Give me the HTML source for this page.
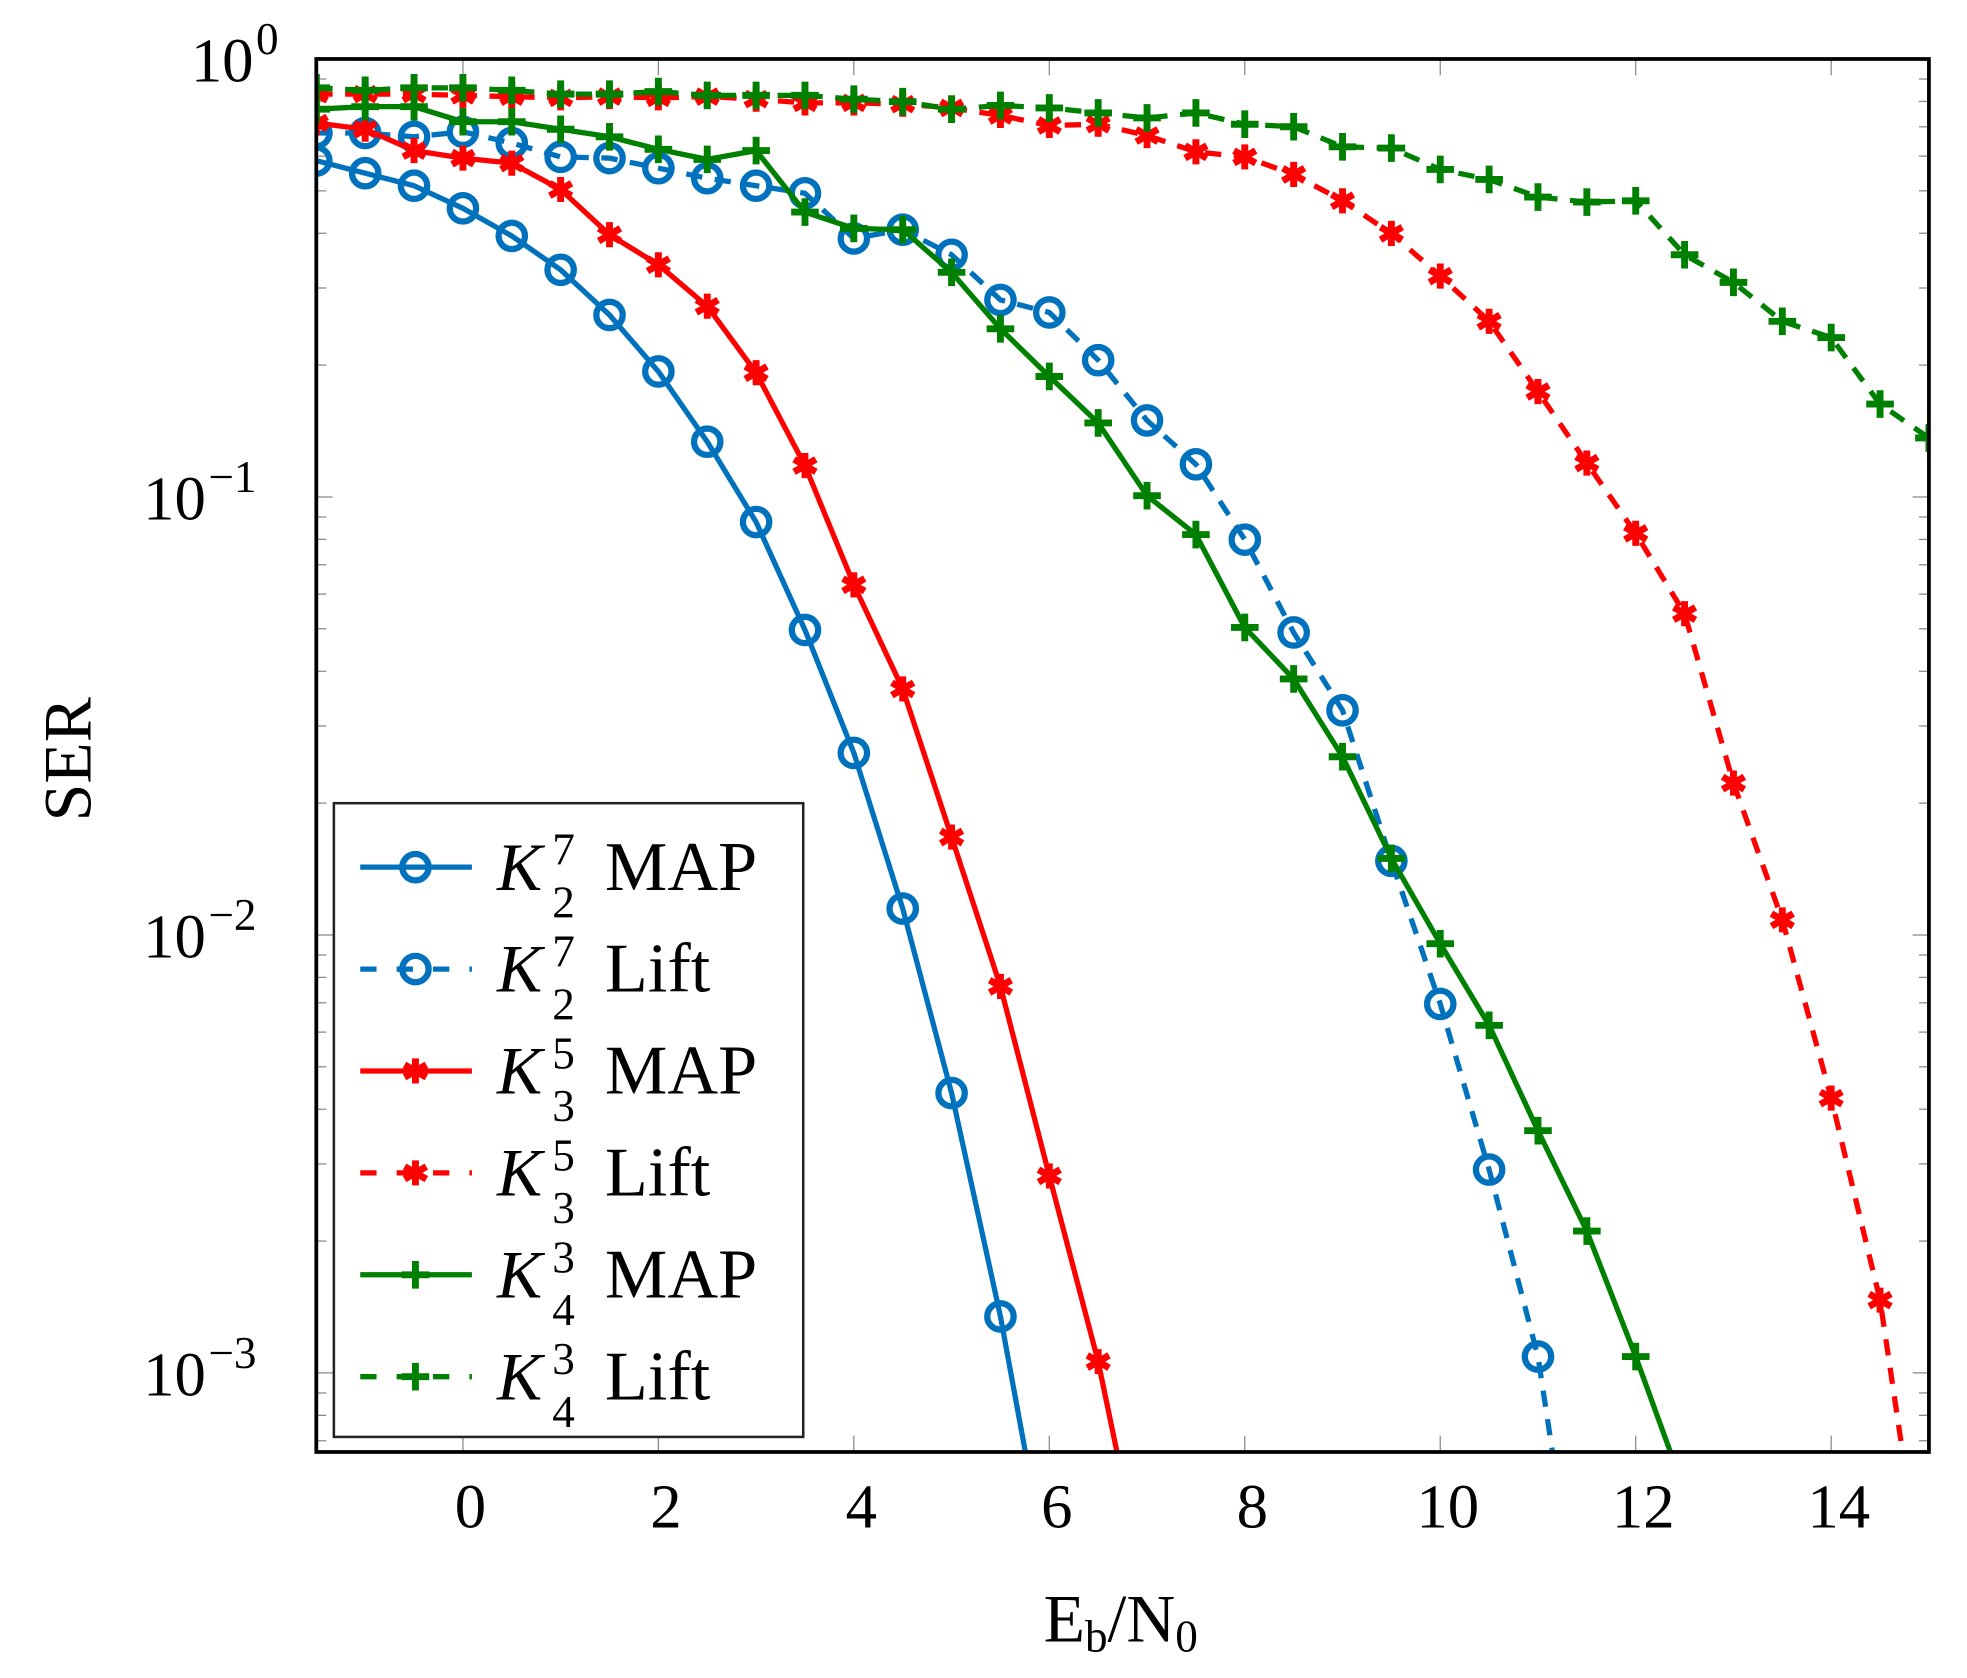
<!DOCTYPE html>
<html><head><meta charset="utf-8"><style>
html,body{margin:0;padding:0;background:#fff;}
svg{display:block;}
text{font-family:"Liberation Serif",serif;fill:#000;}
</style></head><body>
<svg id="s" width="1967" height="1678" viewBox="0 0 1567.3 1337.1" xmlns="http://www.w3.org/2000/svg">
</svg>
<script>
const s=document.getElementById('s');
const L=252,R=1537,T=47,B=1157;
const X=x=>L+(x+1.5)*(R-L)/16.5;
const Y=lg=>T-lg*349;
let h='';
for(let d=0;d>=-4;d--){for(let m=1;m<10;m++){const yy=Y(d+Math.log10(m));if(yy<T-0.5||yy>B)continue;
 const len=m==1?13:8;
 h+=`<line x1="${L}" y1="${yy}" x2="${L+len}" y2="${yy}" stroke="#888" stroke-width="1"/>`;
 h+=`<line x1="${R}" y1="${yy}" x2="${R-len}" y2="${yy}" stroke="#888" stroke-width="1"/>`;}}
for(let x=0;x<=14;x+=2){const xx=X(x);
 h+=`<line x1="${xx}" y1="${B}" x2="${xx}" y2="${B-13}" stroke="#888" stroke-width="1"/>`;
 h+=`<line x1="${xx}" y1="${T}" x2="${xx}" y2="${T+13}" stroke="#888" stroke-width="1"/>`;
 h+=`<text x="${xx+6}" y="${B+60}" font-size="50" text-anchor="middle">${x}</text>`;}
const yl=[[0,'0'],[-1,'−1'],[-2,'−2'],[-3,'−3']];
for(const [d,t] of yl){const yy=Y(d);
 h+=`<text x="${d==0?202:164}" y="${yy+18}" font-size="50" text-anchor="end">10</text><text x="${d==0?204:166}" y="${yy-4}" font-size="36">${t}</text>`;}
const bl='#0072bd',rd='#ff0000',gr='#008000';
function pts(arr,end){const p=arr.map((y,i)=>[X(-1.5+i*0.5),y]);if(end)p.push(end);return p;}
const series=[
 {c:bl,d:false,m:'o',p:pts([128,138,148,166,188,215,251,296,352,416,502,600,724,871,1049],[817,1157])},
 {c:bl,d:true,m:'o',p:pts([106,106,109,105,114,125,126,134,142,148,154,190,183,203,239,249,287,335,370,430,504,566,686,800,932,1081],[1237,1157])},
 {c:rd,d:false,m:'*',p:pts([98,103,120,126,130,151,187,211,244,297,371,466,549,667,786,937,1085],[890,1157])},
 {c:rd,d:true,m:'*',p:pts([75,75,75,76,77,78,77,78,77,79,82,82,83,86,92,100,99,108,121,125,139,160,186,220,256,312,369,425,489,624,733,875,1036],[1516,1157])},
 {c:gr,d:false,m:'+',p:pts([87,85,85,97,97,103,109,119,127,120,169,182,183,217,262,300,337,395,426,500,541,603,684,752,817,901,981,1081],[1331,1157])},
 {c:gr,d:true,m:'+',p:pts([70,72,70,70,72,75,75,73,76,76,76,79,81,87,84,86,90,94,90,99,101,117,118,135,143,157,161,160,203,225,256,269,322,349])}
];
function marker(m,c,x,y){
 if(m=='o')return `<circle cx="${x}" cy="${y}" r="10.5" fill="none" stroke="${c}" stroke-width="5"/>`;
 if(m=='+')return `<path d="M${x-11} ${y}H${x+11}M${x} ${y-11}V${y+11}" stroke="${c}" stroke-width="5.5"/>`;
 let d='';for(let k=0;k<3;k++){const a=Math.PI/2+k*Math.PI/3;d+=`M${x-10*Math.cos(a)} ${y-10*Math.sin(a)}L${x+10*Math.cos(a)} ${y+10*Math.sin(a)}`;}
 return `<path d="${d}" stroke="${c}" stroke-width="5.5"/>`;
}
h+=`<defs><clipPath id="cp"><rect x="${L}" y="${T}" width="${R-L}" height="${B-T}"/></clipPath></defs><g clip-path="url(#cp)">`;
for(const se of series){
 h+=`<polyline points="${se.p.map(q=>q.join(',')).join(' ')}" fill="none" stroke="${se.c}" stroke-width="4.2" stroke-linejoin="round" ${se.d?'stroke-dasharray="13,10"':''}/>`;
 const n=se.p.length-(se.d&&se.c==gr?0:1);
 for(let i=0;i<n;i++)h+=marker(se.m,se.c,se.p[i][0],se.p[i][1]);
}
h+='</g>';
h+=`<rect x="${L}" y="${T}" width="${R-L}" height="${B-T}" fill="none" stroke="#000" stroke-width="3"/>`;
h+=`<rect x="266" y="640" width="374" height="505" fill="#fff" stroke="#222" stroke-width="2"/>`;
const lab=[['7','2','MAP'],['7','2','Lift'],['5','3','MAP'],['5','3','Lift'],['3','4','MAP'],['3','4','Lift']];
for(let i=0;i<6;i++){const y=691+i*81.2,se=series[i];
 h+=`<line x1="287" y1="${y}" x2="376" y2="${y}" stroke="${se.c}" stroke-width="4.2" ${se.d?'stroke-dasharray="13,16"':''}/>`;
 h+=marker(se.m,se.c,331,y);
 h+=`<text x="396" y="${y+18}" font-size="54" font-style="italic">K</text><text x="440" y="${y-2}" font-size="36">${lab[i][0]}</text><text x="440" y="${y+40}" font-size="36">${lab[i][1]}</text><text x="482" y="${y+18}" font-size="56">${lab[i][2]}</text>`;}
h+=`<text transform="translate(72,605) rotate(-90)" font-size="54" text-anchor="middle">SER</text>`;
h+=`<text x="893" y="1308" font-size="54" text-anchor="middle">E<tspan font-size="36" dy="8">b</tspan><tspan dy="-8">/N</tspan><tspan font-size="36" dy="8">0</tspan></text>`;
s.innerHTML=h;
</script>
</body></html>
